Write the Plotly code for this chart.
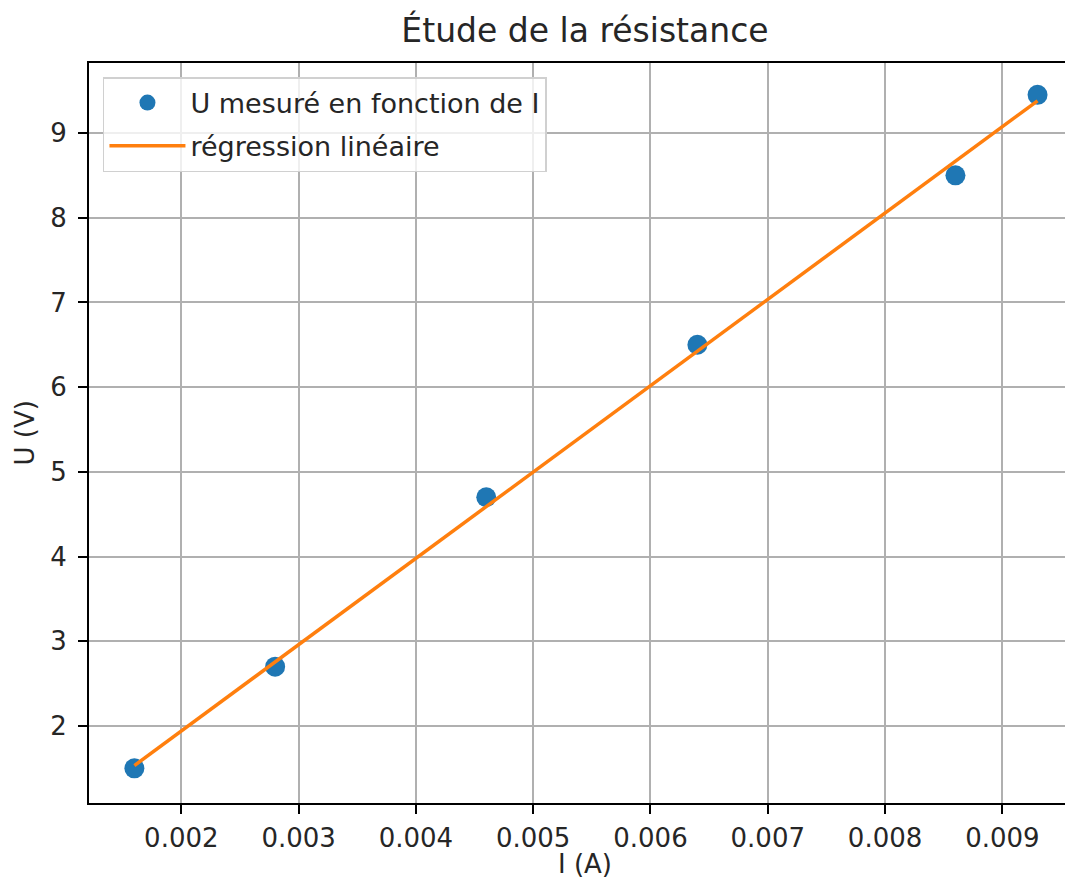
import numpy as np
import plotly.graph_objects as go

# Data
I_mesure = [0.0016, 0.0028, 0.0046, 0.0064, 0.0086, 0.0093]
U_mesure = [1.5, 2.7, 4.7, 6.5, 8.5, 9.45]
x_ticks = [0.002, 0.003, 0.004, 0.005, 0.006, 0.007, 0.008, 0.009]
x_tick_labels = ["0.002", "0.003", "0.004", "0.005", "0.006", "0.007", "0.008", "0.009"]
y_ticks = [2, 3, 4, 5, 6, 7, 8, 9]

# Linear regression
a, b = np.polyfit(I_mesure, U_mesure, 1)
U_reg = [a * x + b for x in I_mesure]

FONT = "DejaVu Sans"
TXT = "#262626"
W, H = 1057, 873
L, R, T, B = 81, 0, 55, 78
PW, PH = W - L - R, H - T - B

fig = go.Figure()
fig.add_trace(go.Scatter(
    x=I_mesure, y=U_mesure, mode="markers",
    name="U mesuré en fonction de I", legendgroup="a",
    marker=dict(color="#1f77b4", size=20),
))
fig.add_trace(go.Scatter(
    x=I_mesure, y=U_reg, mode="lines",
    name="régression linéaire", legendgroup="b",
    line=dict(color="#ff7f0e", width=3.5),
))

axis_common = dict(
    showline=True, linecolor="black", linewidth=2,
    ticks="outside", ticklen=9, tickwidth=2, tickcolor="black",
    showgrid=True, gridcolor="#b0b0b0", gridwidth=1.5,
    zeroline=False, automargin=False,
    tickfont=dict(family=FONT, size=26, color=TXT),
)

fig.update_layout(
    width=W, height=H,
    paper_bgcolor="white", plot_bgcolor="white",
    margin=dict(l=L, r=R, t=T, b=B),
    font=dict(family=FONT, color=TXT),
    title=dict(text="Étude de la résistance", x=577 / W, xanchor="center", xref="container",
               y=1 - 22 / H, yanchor="middle", yref="container",
               font=dict(family=FONT, size=33, color=TXT)),
    xaxis=dict(range=[0.001213, 0.009534], tickvals=x_ticks, ticktext=x_tick_labels,
               mirror=True, ticklabelstandoff=2, **axis_common),
    yaxis=dict(range=[1.091, 9.826], tickvals=y_ticks, mirror=False,
               ticklabelstandoff=6, **axis_common),
    legend=dict(x=0.0143, y=0.981, xanchor="left", yanchor="top",
                bgcolor="rgba(255,255,255,0.8)", bordercolor="#d0d0d0", borderwidth=1.5,
                font=dict(family=FONT, size=27, color=TXT),
                itemwidth=76, traceorder="grouped", tracegroupgap=5),
    showlegend=True,
    annotations=[
        dict(text="I (A)", xref="paper", yref="paper",
             x=(576.5 - L) / PW, y=(PH + T - 872) / PH,
             xanchor="center", yanchor="bottom", showarrow=False, borderpad=0,
             font=dict(family=FONT, size=26, color=TXT)),
        dict(text="U (V)", xref="paper", yref="paper",
             x=(16.5 - L) / PW, y=0.5, textangle=-90,
             xanchor="center", yanchor="middle", showarrow=False,
             font=dict(family=FONT, size=26, color=TXT)),
    ],
)

fig.write_html("out.html")
